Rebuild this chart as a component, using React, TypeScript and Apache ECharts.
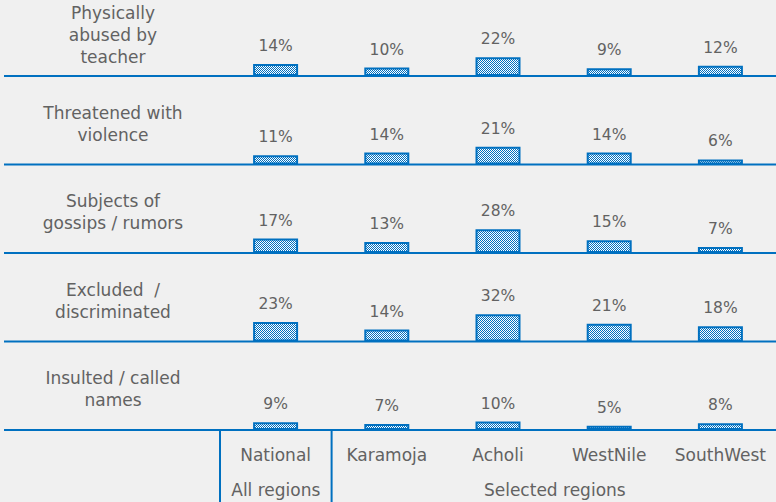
import React, { useEffect, useRef } from "react";
import * as echarts from "echarts";

const categories = ["National", "Karamoja", "Acholi", "WestNile", "SouthWest"];
const rowLabels = [
  "Physically\nabused by\nteacher",
  "Threatened with\nviolence",
  "Subjects of\ngossips / rumors",
  "Excluded  /\ndiscriminated",
  "Insulted / called\nnames",
];
const physicallyAbused = [14, 10, 22, 9, 12];
const threatened = [11, 14, 21, 14, 6];
const gossips = [17, 13, 28, 15, 7];
const excluded = [23, 14, 32, 21, 18];
const insulted = [9, 7, 10, 5, 8];
const rows = [physicallyAbused, threatened, gossips, excluded, insulted];
const groupLabels = ["All regions", "Selected regions"];

const W = 776;
const H = 502;
const BLUE = "#0070c0";
const TEXT = "#626262";
const FONT = "'DejaVu Sans', sans-serif";

export default function App() {
  const ref = useRef<HTMLDivElement>(null);
  useEffect(() => {
    document.body.style.margin = "0";
    const chart = echarts.init(ref.current!, null, { renderer: "svg" });

    const cv = document.createElement("canvas");
    cv.width = 2;
    cv.height = 2;
    const ctx = cv.getContext("2d")!;
    ctx.fillStyle = "#ffffff";
    ctx.fillRect(0, 0, 2, 2);
    ctx.fillStyle = BLUE;
    ctx.fillRect(0, 0, 1, 1);
    ctx.fillRect(1, 1, 1, 1);
    const pattern: any = { image: cv, repeat: "repeat" };

    const gridLeft = 220;
    const gridWidth = 558;
    const band = gridWidth / categories.length;
    const firstBase = 76;
    const rowGap = 88.5;
    const gridH = 34;
    const yMax = 40;
    const bases = rows.map((_, i) => firstBase + i * rowGap);
    const last = rows.length - 1;

    const grids = bases.map((b) => ({ left: gridLeft, width: gridWidth, top: b - gridH, height: gridH }));
    const xAxes = rows.map((_, i) => ({
      type: "category",
      gridIndex: i,
      data: categories,
      axisLine: { show: false },
      axisTick: { show: false },
      axisLabel: {
        show: i === last,
        interval: 0,
        margin: 16,
        fontSize: 17,
        color: TEXT,
        fontFamily: FONT,
      },
    }));
    const yAxes = rows.map((_, i) => ({
      type: "value",
      gridIndex: i,
      min: 0,
      max: yMax,
      show: false,
      splitLine: { show: false },
    }));
    const series = rows.map((r, i) => ({
      type: "bar",
      xAxisIndex: i,
      yAxisIndex: i,
      data: r,
      barWidth: 45,
      itemStyle: { color: pattern, borderColor: BLUE, borderWidth: 2 },
      label: {
        show: true,
        position: "top",
        distance: 10,
        formatter: "{c}%",
        fontSize: 15.5,
        color: TEXT,
        fontFamily: FONT,
      },
      z: 3,
    }));

    const graphics: any[] = [];
    bases.forEach((b, i) => {
      graphics.push({
        type: "line",
        shape: { x1: 4, y1: b, x2: W, y2: b },
        style: { stroke: BLUE, lineWidth: 2 },
        z: 1,
      });
      graphics.push({
        type: "text",
        x: 113,
        y: b - 41,
        style: {
          text: rowLabels[i],
          fontSize: 17,
          lineHeight: 22,
          fill: TEXT,
          fontFamily: FONT,
          align: "center",
          verticalAlign: "middle",
        },
      });
    });
    const lastBase = bases[last];
    [gridLeft, gridLeft + band].forEach((x) => {
      graphics.push({
        type: "line",
        shape: { x1: x, y1: lastBase, x2: x, y2: H },
        style: { stroke: BLUE, lineWidth: 2 },
      });
    });
    graphics.push({
      type: "text",
      x: gridLeft + band / 2,
      y: 490,
      style: { text: groupLabels[0], fontSize: 17, fill: TEXT, fontFamily: FONT, align: "center", verticalAlign: "middle" },
    });
    graphics.push({
      type: "text",
      x: gridLeft + band + (gridWidth - band) / 2,
      y: 490,
      style: { text: groupLabels[1], fontSize: 17, fill: TEXT, fontFamily: FONT, align: "center", verticalAlign: "middle" },
    });

    chart.setOption({
      animation: false,
      backgroundColor: "#f0f0f0",
      grid: grids,
      xAxis: xAxes,
      yAxis: yAxes,
      series,
      graphic: graphics,
    });
    return () => chart.dispose();
  }, []);
  return <div ref={ref} style={{ width: W, height: H, background: "#f0f0f0" }} />;
}
